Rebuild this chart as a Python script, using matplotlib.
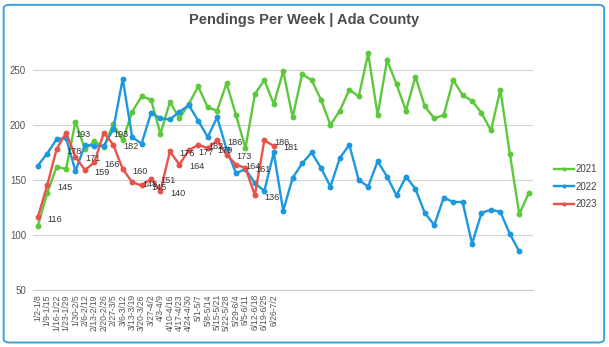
import matplotlib
matplotlib.use("Agg")
import matplotlib.pyplot as plt
from matplotlib.patches import FancyBboxPatch

plt.rcParams['font.family'] = ['Liberation Sans', 'DejaVu Sans']

week_labels = ["1/2-1/8", "1/9-1/15", "1/16-1/22", "1/23-1/29", "1/30-2/5", "2/6-2/12",
               "2/13-2/19", "2/20-2/26", "2/27-3/5", "3/6-3/12", "3/13-3/19", "3/20-3/26",
               "3/27-4/2", "4/3-4/9", "4/10-4/16", "4/17-4/23", "4/24-4/30", "5/1-5/7",
               "5/8-5/14", "5/15-5/21", "5/22-5/28", "5/29-6/4", "6/5-6/11", "6/12-6/18",
               "6/19-6/25", "6/26-7/2"]

values_2021 = [108, 138, 162, 160, 203, 178, 185, 180, 201, 186, 212, 226, 223, 192, 221,
               206, 219, 235, 216, 213, 238, 209, 179, 228, 241, 219, 249, 207, 246, 241,
               223, 200, 213, 232, 226, 265, 209, 259, 237, 213, 244, 217, 206, 209, 241,
               227, 222, 211, 195, 232, 174, 119, 138]
values_2022 = [163, 174, 187, 188, 158, 182, 181, 181, 196, 242, 189, 183, 211, 206, 205,
               212, 218, 204, 189, 207, 178, 156, 160, 147, 140, 175, 122, 152, 165, 175,
               161, 144, 170, 182, 150, 144, 167, 153, 136, 153, 142, 120, 109, 134, 130,
               130, 92, 120, 123, 121, 101, 85]
values_2023 = [116, 145, 178, 193, 171, 159, 166, 193, 182, 160, 148, 145, 151, 140, 176,
               164, 177, 182, 179, 186, 173, 164, 161, 136, 186, 181]

series = [("2021", values_2021, "#5cc83c"),
          ("2022", values_2022, "#1b98e0"),
          ("2023", values_2023, "#ea5249")]

fig = plt.figure(figsize=(6.09, 3.47), dpi=100)
fig.patch.set_facecolor("white")

# outer rounded border
border = FancyBboxPatch((0.006, 0.013), 0.986, 0.973, boxstyle="round,pad=0,rounding_size=0.01",
                        transform=fig.transFigure, facecolor="none", edgecolor="#3aa3dc",
                        linewidth=1.4, zorder=0)
fig.patches.append(border)

ax = fig.add_axes([0.0542, 0.1643, 0.8217, 0.6974])
n = len(values_2021)
for name, vals, col in series:
    xs = list(range(len(vals)))
    ax.plot(xs, vals, color=col, lw=1.7, marker="o", ms=3.2, label=name, zorder=3)

for i, v in enumerate(values_2023):
    ax.annotate(str(v), (i, v), xytext=(7, -1.5), textcoords="offset points",
                ha="left", va="center", fontsize=6.6, color="#333333", zorder=4)

ax.set_xlim(-0.5, n - 0.5)
ax.set_ylim(50, 270)
ax.set_yticks([50, 100, 150, 200, 250])
ax.yaxis.grid(True, color="#d4d4d4", lw=0.8)
ax.set_axisbelow(True)
for s in ["top", "right", "left"]:
    ax.spines[s].set_visible(False)
ax.spines["bottom"].set_color("#cccccc")
ax.spines["bottom"].set_linewidth(0.8)

ax.set_xticks(range(n))
ax.set_xticklabels(week_labels + [""] * (n - len(week_labels)), rotation=90,
                   fontsize=6.2, color="#555555")
ax.tick_params(axis="x", length=0, pad=3)
ax.tick_params(axis="y", length=0, pad=5, labelsize=7, labelcolor="#555555")

fig.text(0.5, 0.942, "Pendings Per Week | Ada County", ha="center", va="center",
         fontsize=10.5, fontweight="bold", color="#4d4d4d")

leg = fig.legend(loc="center left", bbox_to_anchor=(0.895, 0.462), frameon=False,
                 fontsize=7, handlelength=2.1, handletextpad=0.1, labelspacing=0.75,
                 markerscale=0.6)
for t in leg.get_texts():
    t.set_color("#444444")

fig.savefig("out.png", dpi=100)
